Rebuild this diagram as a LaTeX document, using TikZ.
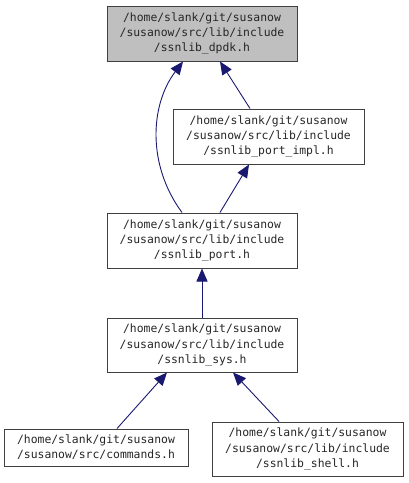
\documentclass[tikz,border=0pt]{standalone}
\usepackage{fontspec}
\setmonofont{DejaVu Sans Mono}
\usetikzlibrary{arrows.meta}
\definecolor{edgeblue}{HTML}{191970}
\definecolor{boxgray}{HTML}{BFBFBF}
\definecolor{boxline}{HTML}{404040}
\tikzset{
  filebox/.style={draw=boxline, line width=1pt, rectangle, inner sep=0pt,
    align=center, font=\ttfamily\fontsize{11.4}{15.3}\selectfont, text=black!85},
  edge/.style={draw=edgeblue, line width=0.9pt, -{Triangle[length=13pt,width=11pt]}}
}
\begin{document}
\begin{tikzpicture}[x=1pt,y=1pt]
\useasboundingbox (0,0) rectangle (408,-483);
\node[filebox, fill=boxgray, minimum width=190pt, minimum height=55pt] (dpdk) at (202,-33.5)
  {/home/slank/git/susanow\\/susanow/src/lib/include\\/ssnlib\_dpdk.h};
\node[filebox, minimum width=191pt, minimum height=55pt] (impl) at (268.5,-136.5)
  {/home/slank/git/susanow\\/susanow/src/lib/include\\/ssnlib\_port\_impl.h};
\node[filebox, minimum width=190pt, minimum height=55pt] (port) at (202,-240.5)
  {/home/slank/git/susanow\\/susanow/src/lib/include\\/ssnlib\_port.h};
\node[filebox, minimum width=190pt, minimum height=54pt] (sys) at (202,-345)
  {/home/slank/git/susanow\\/susanow/src/lib/include\\/ssnlib\_sys.h};
\node[filebox, minimum width=184pt, minimum height=37pt] (cmd) at (96,-447.5)
  {/home/slank/git/susanow\\/susanow/src/commands.h};
\node[filebox, minimum width=191pt, minimum height=54pt] (shell) at (307.5,-449)
  {/home/slank/git/susanow\\/susanow/src/lib/include\\/ssnlib\_shell.h};

\draw[edge] ([xshift=-18.5pt]impl.north) -- ([xshift=18pt]dpdk.south);
\draw[edge] ([xshift=18pt]port.north) -- ([xshift=-19.5pt]impl.south);
\draw[edge] ([xshift=-20pt]port.north) .. controls (147,-165) and (150,-105) .. ([xshift=-19pt]dpdk.south);
\draw[edge] (sys.north) -- (port.south);
\draw[edge] ([xshift=21pt]cmd.north) -- ([xshift=-35pt]sys.south);
\draw[edge] ([xshift=-28.5pt]shell.north) -- ([xshift=31pt]sys.south);
\end{tikzpicture}
\end{document}
